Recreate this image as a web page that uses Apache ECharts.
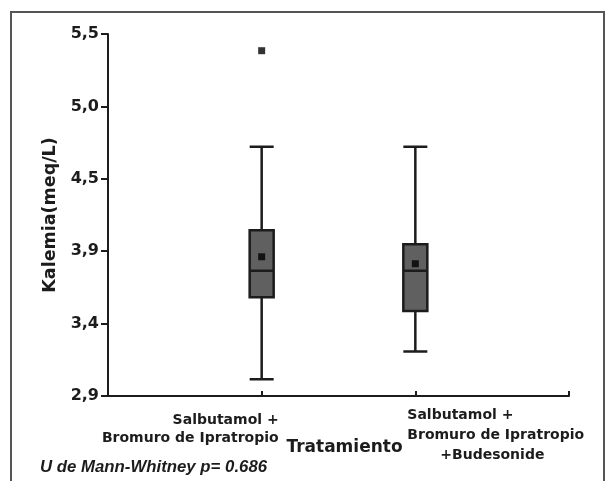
<!DOCTYPE html>
<html>
<head>
<meta charset="utf-8">
<script src="https://cdn.jsdelivr.net/npm/echarts@6/dist/echarts.min.js"></script>
<style>
html,body{margin:0;padding:0;background:#fff;}
#chart{width:608px;height:481px;}
</style>
</head>
<body>
<div id="chart"></div>
<script>
// ---- data ----
var categories = ['', 'Salbutamol +\nBromuro de Ipratropio', 'Salbutamol +\nBromuro de Ipratropio\n+Budesonide', ''];
// [categoryIndex, min, Q1, median, Q3, max]
var boxValues = [
  [1, 3.02, 3.61, 3.80, 4.09, 4.69],
  [2, 3.22, 3.51, 3.80, 3.99, 4.69]
];
var meanValues = [[1, 3.90], [2, 3.85]];
var outlierValues = [[1, 5.38]];
var yTickValues = [2.9, 3.42, 3.94, 4.46, 4.98, 5.5];
var yTickLabels = ['2,9', '3,4', '3,9', '4,5', '5,0', '5,5'];
var yAxisName = 'Kalemia(meq/L)';
var xAxisName = 'Tratamiento';
var noteText = 'U de Mann-Whitney p= 0.686';
var cat1Lines = ['Salbutamol +', 'Bromuro de Ipratropio'];
var cat2Lines = ['Salbutamol +', 'Bromuro de Ipratropio', '+Budesonide'];

var chart = echarts.init(document.getElementById('chart'), null, {renderer: 'canvas'});
var ink = '#1c1c1c';

var option = {
  backgroundColor: '#fff',
  animation: false,
  grid: {left: 108, right: 39, top: 34, bottom: 85, containLabel: false},
  xAxis: {
    type: 'category',
    data: categories,
    boundaryGap: false,
    axisLine: {lineStyle: {color: ink, width: 2}},
    axisTick: {show: true, inside: true, length: 5, lineStyle: {color: ink, width: 2}},
    axisLabel: {show: false},
    splitLine: {show: false}
  },
  yAxis: {
    type: 'value',
    min: 2.9,
    max: 5.5,
    name: yAxisName,
    nameLocation: 'middle',
    nameGap: 46,
    nameRotate: 90,
    nameTextStyle: {fontFamily: 'DejaVu Sans', fontWeight: 'bold', fontSize: 17.5, color: ink},
    axisLine: {show: true, lineStyle: {color: ink, width: 2}},
    axisTick: {show: true, length: 7, customValues: yTickValues, lineStyle: {color: ink, width: 2}},
    axisLabel: {
      margin: 9,
      customValues: yTickValues,
      fontFamily: 'DejaVu Sans', fontWeight: 'bold', fontSize: 16, color: ink,
      formatter: function (v) {
        for (var i = 0; i < yTickValues.length; i++) {
          if (Math.abs(yTickValues[i] - v) < 1e-6) return yTickLabels[i];
        }
        return '';
      }
    },
    splitLine: {show: false}
  },
  series: [
    {
      type: 'boxplot',
      data: boxValues,
      encode: {x: 0, y: [1, 2, 3, 4, 5]},
      boxWidth: [24, 24],
      itemStyle: {color: '#606060', borderColor: ink, borderWidth: 2.5},
      z: 2
    },
    {
      type: 'scatter',
      data: meanValues,
      symbol: 'rect',
      symbolSize: 7,
      itemStyle: {color: '#000'},
      z: 5
    },
    {
      type: 'scatter',
      data: outlierValues,
      symbol: 'rect',
      symbolSize: 7,
      itemStyle: {color: '#000'},
      z: 5
    }
  ]
};
chart.setOption(option);

// label positions derived from the axis scale
var p1 = chart.convertToPixel({xAxisIndex: 0}, 1);
var p2 = chart.convertToPixel({xAxisIndex: 0}, 2);
var yBase = chart.convertToPixel({yAxisIndex: 0}, 2.9);
var catFont = 'bold 14px "DejaVu Sans"';
var graphics = [
  {type: 'rect', shape: {x: 11, y: 12, width: 593, height: 480}, style: {fill: 'none', stroke: '#555', lineWidth: 2}, silent: true}
];
cat1Lines.forEach(function (t, i) {
  graphics.push({type: 'text', x: p1 + 17, y: yBase + 24 + i * 18,
    style: {text: t, font: catFont, fill: ink, align: 'right', verticalAlign: 'middle'}});
});
cat2Lines.forEach(function (t, i) {
  var last = i === 2;
  graphics.push({type: 'text', x: last ? p2 + 77 : p2 - 8, y: yBase + 19 + i * 20,
    style: {text: t, font: catFont, fill: ink, align: last ? 'center' : 'left', verticalAlign: 'middle'}});
});
graphics.push({type: 'text', x: (p1 + p2) / 2 + 6, y: yBase + 52,
  style: {text: xAxisName, font: 'bold 17px "DejaVu Sans"', fill: ink, align: 'center', verticalAlign: 'middle'}});
graphics.push({type: 'text', x: 40, y: yBase + 71,
  style: {text: noteText, font: 'italic bold 16.8px "Liberation Sans"', fill: ink, align: 'left', verticalAlign: 'middle'}});
chart.setOption({graphic: graphics});
</script>
</body>
</html>
